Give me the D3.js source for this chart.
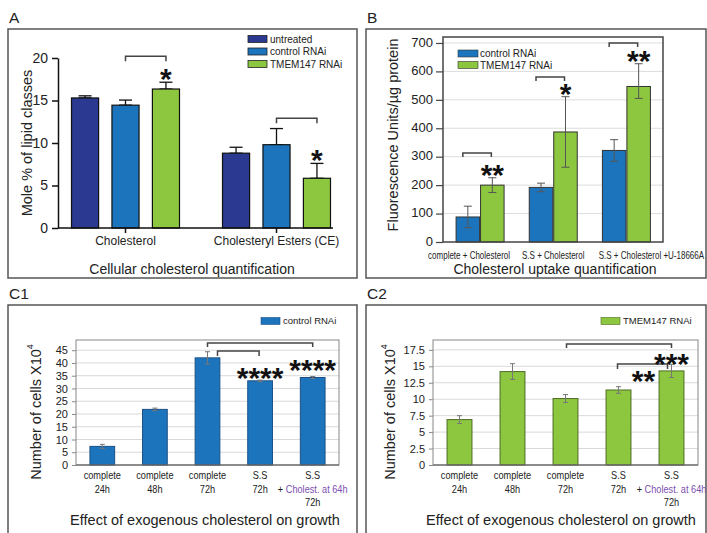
<!DOCTYPE html>
<html><head><meta charset="utf-8">
<script src="https://cdn.jsdelivr.net/npm/d3@7"></script>
<style>body{margin:0;background:#fff} svg{display:block;font-family:"Liberation Sans",Arial,sans-serif}</style>
</head><body><svg id="c" width="707" height="533"></svg>
<script>
// ---------- Panel A data ----------
const aCategories = ["Cholesterol", "Cholesteryl Esters (CE)"];
const aSeries = ["untreated", "control RNAi", "TMEM147 RNAi"];
const aUntreated = [15.3, 8.8];
const aControl = [14.45, 9.8];
const aTmem = [16.35, 5.85];
const aUntreatedErr = [0.25, 0.7];
const aControlErr = [0.6, 1.9];
const aTmemErr = [0.8, 1.75];
const aTicks = [0, 5, 10, 15, 20];
const aSig = [{cat: 0, y: 20.2, starY: 18.35, label: "*"}, {cat: 1, y: 12.9, starY: 8.8, label: "*"}];

// ---------- Panel B data ----------
const bCategories = ["complete + Cholesterol", "S.S + Cholesterol", "S.S + Cholesterol +U-18666A"];
const bSeries = ["control RNAi", "TMEM147 RNAi"];
const bControl = [88, 192, 322];
const bControlErr = [38, 15, 38];
const bTmem = [200, 387, 547];
const bTmemErrHigh = [26, 124, 80];
const bTmemErrLow = [26, 124, 42];
const bTicks = [0, 100, 200, 300, 400, 500, 600, 700];
const bSig = [{cat: 0, y: 313, starY: 260, label: "**"}, {cat: 1, y: 580, starY: 542, label: "*"}, {cat: 2, y: 700, starY: 658, label: "**"}];

// ---------- Panel C data ----------
const cCategories = ["complete 24h", "complete 48h", "complete 72h", "S.S 72h", "S.S + Cholest. at 64h 72h"];
const cLine1 = ["complete", "complete", "complete", "S.S", "S.S"];
const cLine2 = ["24h", "48h", "72h", "72h", "+ Cholest. at 64h"];
const cLine3 = ["", "", "", "", "72h"];
const c1Control = [7.3, 21.8, 42.0, 33.0, 34.3];
const c1Err = [0.8, 0.5, 2.4, 0.3, 0.4];
const c1Ticks = [0, 5, 10, 15, 20, 25, 30, 35, 40, 45];
const c2Tmem = [6.9, 14.2, 10.1, 11.4, 14.3];
const c2Err = [0.6, 1.2, 0.6, 0.5, 1.0];
const c2Ticks = [0, 2.5, 5, 7.5, 10, 12.5, 15, 17.5];

// ---------- drawing ----------
const NAVY = "#2b3990", BLUE = "#1c75bc", GREEN = "#8dc63f";
const colorOf = {"untreated": NAVY, "control RNAi": BLUE, "TMEM147 RNAi": GREEN};
const svg = d3.select("#c");
svg.append("rect").attr("width", 707).attr("height", 533).attr("fill", "#fff");

function panelBox(x0, y0, x1, y1, label) {
  svg.append("rect").attr("x", x0).attr("y", y0).attr("width", x1 - x0).attr("height", y1 - y0)
    .attr("fill", "none").attr("stroke", "#555").attr("stroke-width", 1.5);
  svg.append("text").attr("x", x0 + 1).attr("y", y0 - 6).attr("font-size", 15.5).attr("fill", "#222").text(label);
}
function stars(g, x, y, txt) {
  g.append("text").attr("x", x).attr("y", y + 16.5).attr("text-anchor", "middle")
    .attr("font-size", 30).attr("font-weight", "bold").attr("fill", "#111").text(txt);
}
function bracket(g, x1, x2, y, drop) {
  g.append("path").attr("d", `M${x1},${y + drop}V${y}H${x2}V${y + drop}`)
    .attr("fill", "none").attr("stroke", "#444").attr("stroke-width", 1.5);
}
function errBar(g, x, yTop, yBot, cap, color, w) {
  g.append("line").attr("x1", x).attr("x2", x).attr("y1", yTop).attr("y2", yBot).attr("stroke", color).attr("stroke-width", w);
  g.append("line").attr("x1", x - cap / 2).attr("x2", x + cap / 2).attr("y1", yTop).attr("y2", yTop).attr("stroke", color).attr("stroke-width", w);
  if (yBot !== null) g.append("line").attr("x1", x - cap / 2).attr("x2", x + cap / 2).attr("y1", yBot).attr("y2", yBot).attr("stroke", color).attr("stroke-width", w);
}
function yLabel(g, x, y, txt, size) {
  return g.append("text").attr("transform", `translate(${x},${y}) rotate(-90)`).attr("text-anchor", "middle")
    .attr("dy", "0.35em").attr("font-size", size).attr("fill", "#222").text(txt);
}

// ===== Panel A =====
panelBox(8, 29, 357, 278, "A");
{
  const g = svg.append("g");
  const y = d3.scaleLinear().domain([0, 20]).range([228, 58]);
  const x0 = d3.scaleBand().domain(aCategories).range([50, 352]);
  const x1 = d3.scaleBand().domain(aSeries).range([-54, 54]).paddingInner(0.33);
  const vals = [aUntreated, aControl, aTmem], errs = [aUntreatedErr, aControlErr, aTmemErr];
  const cx = c => x0(c) + x0.bandwidth() / 2;
  aCategories.forEach((c, i) => {
    aSeries.forEach((s, j) => {
      const v = vals[j][i], e = errs[j][i];
      const bx = cx(c) + x1(s);
      errBar(g, bx + x1.bandwidth() / 2, y(v + e), y(v), 13, "#111", 1.3);
      g.append("rect").attr("x", bx).attr("y", y(v)).attr("width", x1.bandwidth()).attr("height", y(0) - y(v))
        .attr("fill", colorOf[s]).attr("stroke", "#111").attr("stroke-width", 1.2);
    });
  });
  const ax = g.append("g").attr("transform", "translate(58,0)")
    .call(d3.axisLeft(y).tickValues(aTicks).tickSize(6).tickSizeOuter(0).tickPadding(4));
  ax.selectAll("path,line").attr("stroke", "#111").attr("stroke-width", 1.5);
  ax.selectAll("text").attr("font-size", 14).attr("font-family", "Liberation Sans").attr("fill", "#222");
  g.append("line").attr("x1", 58).attr("x2", 333).attr("y1", y(0)).attr("y2", y(0)).attr("stroke", "#111").attr("stroke-width", 1.5);
  const bx = g.append("g").attr("transform", `translate(0,${y(0)})`)
    .call(d3.axisBottom(x0).tickSize(5).tickPadding(3));
  bx.select(".domain").remove();
  bx.selectAll("line").attr("stroke", "#111").attr("stroke-width", 1.5);
  bx.selectAll("text").attr("font-size", 12).attr("font-family", "Liberation Sans").attr("fill", "#222");
  yLabel(g, 27, 143, "Mole % of lipid classes", 14.5);
  aSig.forEach(d => {
    const c = aCategories[d.cat];
    const xa = cx(c) + x1("control RNAi") + x1.bandwidth() / 2;
    const xb = cx(c) + x1("TMEM147 RNAi") + x1.bandwidth() / 2;
    bracket(g, xa, xb, y(d.y), 5);
    stars(g, xb, y(d.starY), d.label);
  });
  const lg = g.append("g").attr("transform", "translate(248,39)");
  aSeries.forEach((s, i) => {
    lg.append("rect").attr("x", 0).attr("y", i * 12.5 - 3.5).attr("width", 19).attr("height", 7)
      .attr("fill", colorOf[s]).attr("stroke", "#222").attr("stroke-width", 0.8);
    lg.append("text").attr("x", 22).attr("y", i * 12.5).attr("dy", "0.35em").attr("font-size", 10).attr("fill", "#222").text(s);
  });
  g.append("text").attr("x", 192).attr("y", 274).attr("text-anchor", "middle").attr("font-size", 14).attr("fill", "#222")
    .text("Cellular cholesterol quantification");
}

// ===== Panel B =====
panelBox(366, 29, 706, 278, "B");
{
  const g = svg.append("g");
  const y = d3.scaleLinear().domain([0, 721]).range([242, 37]);
  const x0 = d3.scaleBand().domain(bCategories).range([443.5, 663]);
  const x1 = d3.scaleBand().domain(bSeries).range([-24, 24]).paddingInner(0.04);
  const cx = c => x0(c) + x0.bandwidth() / 2;
  g.selectAll("line.grid").data(bTicks.slice(1)).join("line").attr("class", "grid")
    .attr("x1", 443).attr("x2", 663).attr("y1", d => y(d)).attr("y2", d => y(d)).attr("stroke", "#ddd").attr("stroke-width", 1);
  bCategories.forEach((c, i) => {
    const items = [
      {s: "control RNAi", v: bControl[i], hi: bControlErr[i], lo: bControlErr[i]},
      {s: "TMEM147 RNAi", v: bTmem[i], hi: bTmemErrHigh[i], lo: bTmemErrLow[i]}];
    items.forEach(d => {
      const bx = cx(c) + x1(d.s);
      g.append("rect").attr("x", bx).attr("y", y(d.v)).attr("width", x1.bandwidth()).attr("height", y(0) - y(d.v))
        .attr("fill", colorOf[d.s]).attr("stroke", "#333").attr("stroke-width", 1);
      errBar(g, bx + x1.bandwidth() / 2, y(d.v + d.hi), y(d.v - d.lo), 8, "#555", 1);
    });
  });
  g.append("rect").attr("x", 443).attr("y", 37).attr("width", 220).attr("height", 205)
    .attr("fill", "none").attr("stroke", "#444").attr("stroke-width", 1.5);
  const ax = g.append("g").attr("transform", "translate(443,0)")
    .call(d3.axisLeft(y).tickValues(bTicks).tickSize(7).tickSizeOuter(0).tickPadding(3));
  ax.select(".domain").remove();
  ax.selectAll("line").attr("stroke", "#444").attr("stroke-width", 1.2);
  ax.selectAll("text").attr("font-size", 13).attr("font-family", "Liberation Sans").attr("fill", "#222")
    .attr("dy", "0.25em");
  // category labels (slightly shifted from band centres, as in the figure)
  const labelShift = [-11, 0, 25];
  bCategories.forEach((c, i) => {
    g.append("g").attr("transform", `translate(${cx(c) + labelShift[i]},258.5)`)
      .append("text").attr("text-anchor", "middle").attr("font-size", 10).attr("fill", "#222")
      .attr("transform", "scale(0.8,1)").text(c);
  });
  yLabel(g, 393, 135, "Fluorescence Units/µg protein", 14.5);
  bSig.forEach(d => {
    const c = bCategories[d.cat];
    const xa = cx(c) + x1("control RNAi") + x1.bandwidth() / 2 - 5;
    const xb = cx(c) + x1("TMEM147 RNAi") + x1.bandwidth() / 2 - 1;
    bracket(g, xa, xb, y(d.y), 4);
    stars(g, cx(c) + x1("TMEM147 RNAi") + x1.bandwidth() / 2, y(d.starY), d.label);
  });
  const lg = g.append("g").attr("transform", "translate(458,53.5)");
  bSeries.forEach((s, i) => {
    lg.append("rect").attr("x", 0).attr("y", i * 11.5 - 3.5).attr("width", 20).attr("height", 7)
      .attr("fill", colorOf[s]).attr("stroke", "#333").attr("stroke-width", 0.6);
    lg.append("text").attr("x", 22).attr("y", i * 11.5).attr("dy", "0.35em").attr("font-size", 10).attr("fill", "#222").text(s);
  });
  g.append("text").attr("x", 555).attr("y", 274).attr("text-anchor", "middle").attr("font-size", 14).attr("fill", "#222")
    .text("Cholesterol uptake quantification");
}

// ===== Panels C1/C2 =====
function panelC(opt) {
  const g = svg.append("g");
  const y = d3.scaleLinear().domain([0, opt.yMax]).range([465, 340]);
  const x = d3.scaleBand().domain(cCategories).range([opt.x0, opt.x1]).paddingInner(0.53).paddingOuter(0.265);
  const cx = c => x(c) + x.bandwidth() / 2;
  g.selectAll("line.grid").data(opt.ticks.slice(1)).join("line").attr("class", "grid")
    .attr("x1", opt.x0).attr("x2", opt.x1).attr("y1", d => y(d)).attr("y2", d => y(d)).attr("stroke", "#d9d9d9");
  cCategories.forEach((c, i) => {
    const v = opt.values[i], e = opt.errs[i];
    g.append("rect").attr("x", x(c)).attr("y", y(v)).attr("width", x.bandwidth()).attr("height", y(0) - y(v))
      .attr("fill", opt.color).attr("stroke", opt.stroke).attr("stroke-width", 1);
    errBar(g, cx(c), y(v + e), y(v - e), 5, "#777", 1);
  });
  g.append("rect").attr("x", opt.x0).attr("y", 340).attr("width", opt.x1 - opt.x0).attr("height", 125)
    .attr("fill", "none").attr("stroke", "#888").attr("stroke-width", 1);
  g.append("line").attr("x1", opt.x0).attr("x2", opt.x1).attr("y1", 465).attr("y2", 465).attr("stroke", "#555").attr("stroke-width", 1.2);
  const ax = g.append("g").attr("transform", `translate(${opt.x0},0)`)
    .call(d3.axisLeft(y).tickValues(opt.ticks).tickFormat(d => String(d)).tickSize(4).tickSizeOuter(0).tickPadding(4));
  ax.select(".domain").remove();
  ax.selectAll("line").attr("stroke", "#888");
  ax.selectAll("text").attr("font-size", 11).attr("font-family", "Liberation Sans").attr("fill", "#222");
  cCategories.forEach((c, i) => {
    const lines = [cLine1[i], cLine2[i], cLine3[i]];
    lines.forEach((t, k) => {
      if (!t) return;
      const tg = g.append("g").attr("transform", `translate(${cx(c)},${479 + k * 13.5})`);
      const tx = tg.append("text").attr("text-anchor", "middle").attr("font-size", 10).attr("fill", "#222")
        .attr("transform", "scale(0.92,1)");
      if (t.startsWith("+ ")) {
        tx.append("tspan").text("+ ");
        tx.append("tspan").attr("fill", "#7b4fb0").text(t.slice(2));
      } else tx.text(t);
    });
  });
  const yl = g.append("text").attr("transform", `translate(${opt.yLabelX},412) rotate(-90)`).attr("text-anchor", "middle")
    .attr("dy", "0.35em").attr("font-size", 14.5).attr("fill", "#222");
  yl.append("tspan").text("Number of cells X10");
  yl.append("tspan").attr("font-size", 9).attr("dy", "-0.9em").text("4");
  opt.brackets.forEach(b => {
    bracket(g, cx(cCategories[b.from]) + b.dx1, cx(cCategories[b.to]) + b.dx2, y(b.y), b.drop);
  });
  opt.stars.forEach(s => stars(g, cx(cCategories[s.cat]) + s.dx, y(s.y), s.label));
  const lg = g.append("g").attr("transform", `translate(${opt.legendX},321)`);
  lg.append("rect").attr("x", 0).attr("y", -3.5).attr("width", 19).attr("height", 7).attr("fill", opt.color)
    .attr("stroke", opt.stroke).attr("stroke-width", 0.6);
  lg.append("text").attr("x", 22).attr("dy", "0.35em").attr("font-size", 9.5).attr("fill", "#222").text(opt.legend);
  g.append("text").attr("x", opt.titleX).attr("y", 525).attr("text-anchor", "middle").attr("font-size", 14.5).attr("fill", "#222")
    .text("Effect of exogenous cholesterol on growth");
}

panelBox(8, 305, 357, 545, "C1");
panelC({
  x0: 76, x1: 339, yMax: 49, ticks: c1Ticks, values: c1Control, errs: c1Err, color: BLUE, stroke: "#1a4f86",
  yLabelX: 36, legendX: 261, legend: "control RNAi", titleX: 205,
  brackets: [{from: 2, to: 4, y: 47.8, dx1: 0, dx2: 0, drop: 4}, {from: 2, to: 3, y: 44.7, dx1: 10, dx2: -1, drop: 5}],
  stars: [{cat: 3, dx: 0, y: 36.5, label: "****"}, {cat: 4, dx: 0, y: 39.6, label: "****"}]
});
panelBox(366, 305, 706, 545, "C2");
panelC({
  x0: 433, x1: 698, yMax: 19, ticks: c2Ticks, values: c2Tmem, errs: c2Err, color: GREEN, stroke: "#4d6b25",
  yLabelX: 390, legendX: 601, legend: "TMEM147 RNAi", titleX: 561,
  brackets: [{from: 2, to: 4, y: 18.4, dx1: 1, dx2: 0, drop: 4}, {from: 3, to: 4, y: 15.35, dx1: -1, dx2: -4, drop: 5}],
  stars: [{cat: 4, dx: 0, y: 16.3, label: "***"}, {cat: 4, dx: -28, y: 13.7, label: "**"}]
});
</script></body></html>
